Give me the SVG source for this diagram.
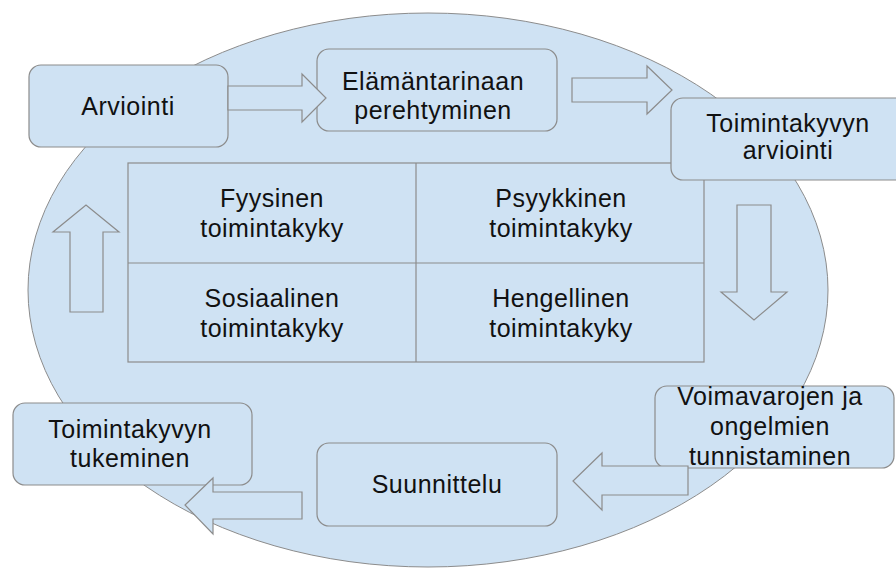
<svg xmlns="http://www.w3.org/2000/svg" width="896" height="569" viewBox="0 0 896 569">
<style>
.bg{fill:#cfe2f3;stroke:#8c8c8c;stroke-width:1}
.box{fill:#cfe2f3;stroke:#8c8c8c;stroke-width:1.2}
.arr{fill:#cfe2f3;stroke:#8c8c8c;stroke-width:1.2}
text{font-family:"Liberation Sans",Arial,sans-serif;font-size:25px;letter-spacing:0.5px;fill:#111;text-anchor:middle}
</style>
<rect width="896" height="569" fill="#fff"/>
<ellipse class="bg" cx="428" cy="290" rx="400" ry="277"/>
<g id="grid">
<rect x="128" y="163" width="576" height="199" fill="none" stroke="#8c8c8c" stroke-width="1.2"/>
<line x1="416" y1="163" x2="416" y2="362" stroke="#8c8c8c" stroke-width="1.2"/>
<line x1="128" y1="263" x2="704" y2="263" stroke="#8c8c8c" stroke-width="1.2"/>
</g>
<g id="fyysinen"><text x="272" y="207">Fyysinen</text><text x="272" y="237">toimintakyky</text></g>
<g id="psyykkinen"><text x="561" y="207">Psyykkinen</text><text x="561" y="237">toimintakyky</text></g>
<g id="sosiaalinen"><text x="272" y="307">Sosiaalinen</text><text x="272" y="337">toimintakyky</text></g>
<g id="hengellinen"><text x="561" y="307">Hengellinen</text><text x="561" y="337">toimintakyky</text></g>
<g id="arviointi"><rect class="box" x="29" y="65" width="199" height="82" rx="12"/><text x="128" y="115">Arviointi</text></g>
<g id="elamantarinaan"><rect class="box" x="317" y="49" width="240" height="82" rx="12"/><text x="433" y="90">Elämäntarinaan</text><text x="433" y="119">perehtyminen</text></g>
<g id="toimintakyvyn-arviointi"><rect class="box" x="671" y="98" width="240" height="82" rx="12"/><text x="788" y="132">Toimintakyvyn</text><text x="788" y="159">arviointi</text></g>
<g id="voimavarojen"><rect class="box" x="655" y="386" width="239" height="82" rx="12"/><text x="770" y="405">Voimavarojen ja</text><text x="770" y="435">ongelmien</text><text x="770" y="465">tunnistaminen</text></g>
<g id="suunnittelu"><rect class="box" x="317" y="443" width="240" height="83" rx="12"/><text x="437" y="493">Suunnittelu</text></g>
<g id="tukeminen"><rect class="box" x="13" y="403" width="239" height="82" rx="12"/><text x="130" y="438">Toimintakyvyn</text><text x="130" y="467">tukeminen</text></g>
<g id="connectors">
<polygon class="arr" points="228,86 302,86 302,74 326,98 302,122 302,110 228,110"/>
<polygon class="arr" points="572,78 647,78 647,66 672,90 647,114 647,102 572,102"/>
<polygon class="arr" points="737,205 771,205 771,292 787,292 754,320 721,292 737,292"/>
<polygon class="arr" points="688,466 602,466 602,453 573,481 602,510 602,495 688,495"/>
<polygon class="arr" points="302,492 213,492 213,478 185,505 213,534 213,519 302,519"/>
<polygon class="arr" points="70,312 70,232 53,232 86,205 119,232 103,232 103,312"/>
</g>
</svg>
